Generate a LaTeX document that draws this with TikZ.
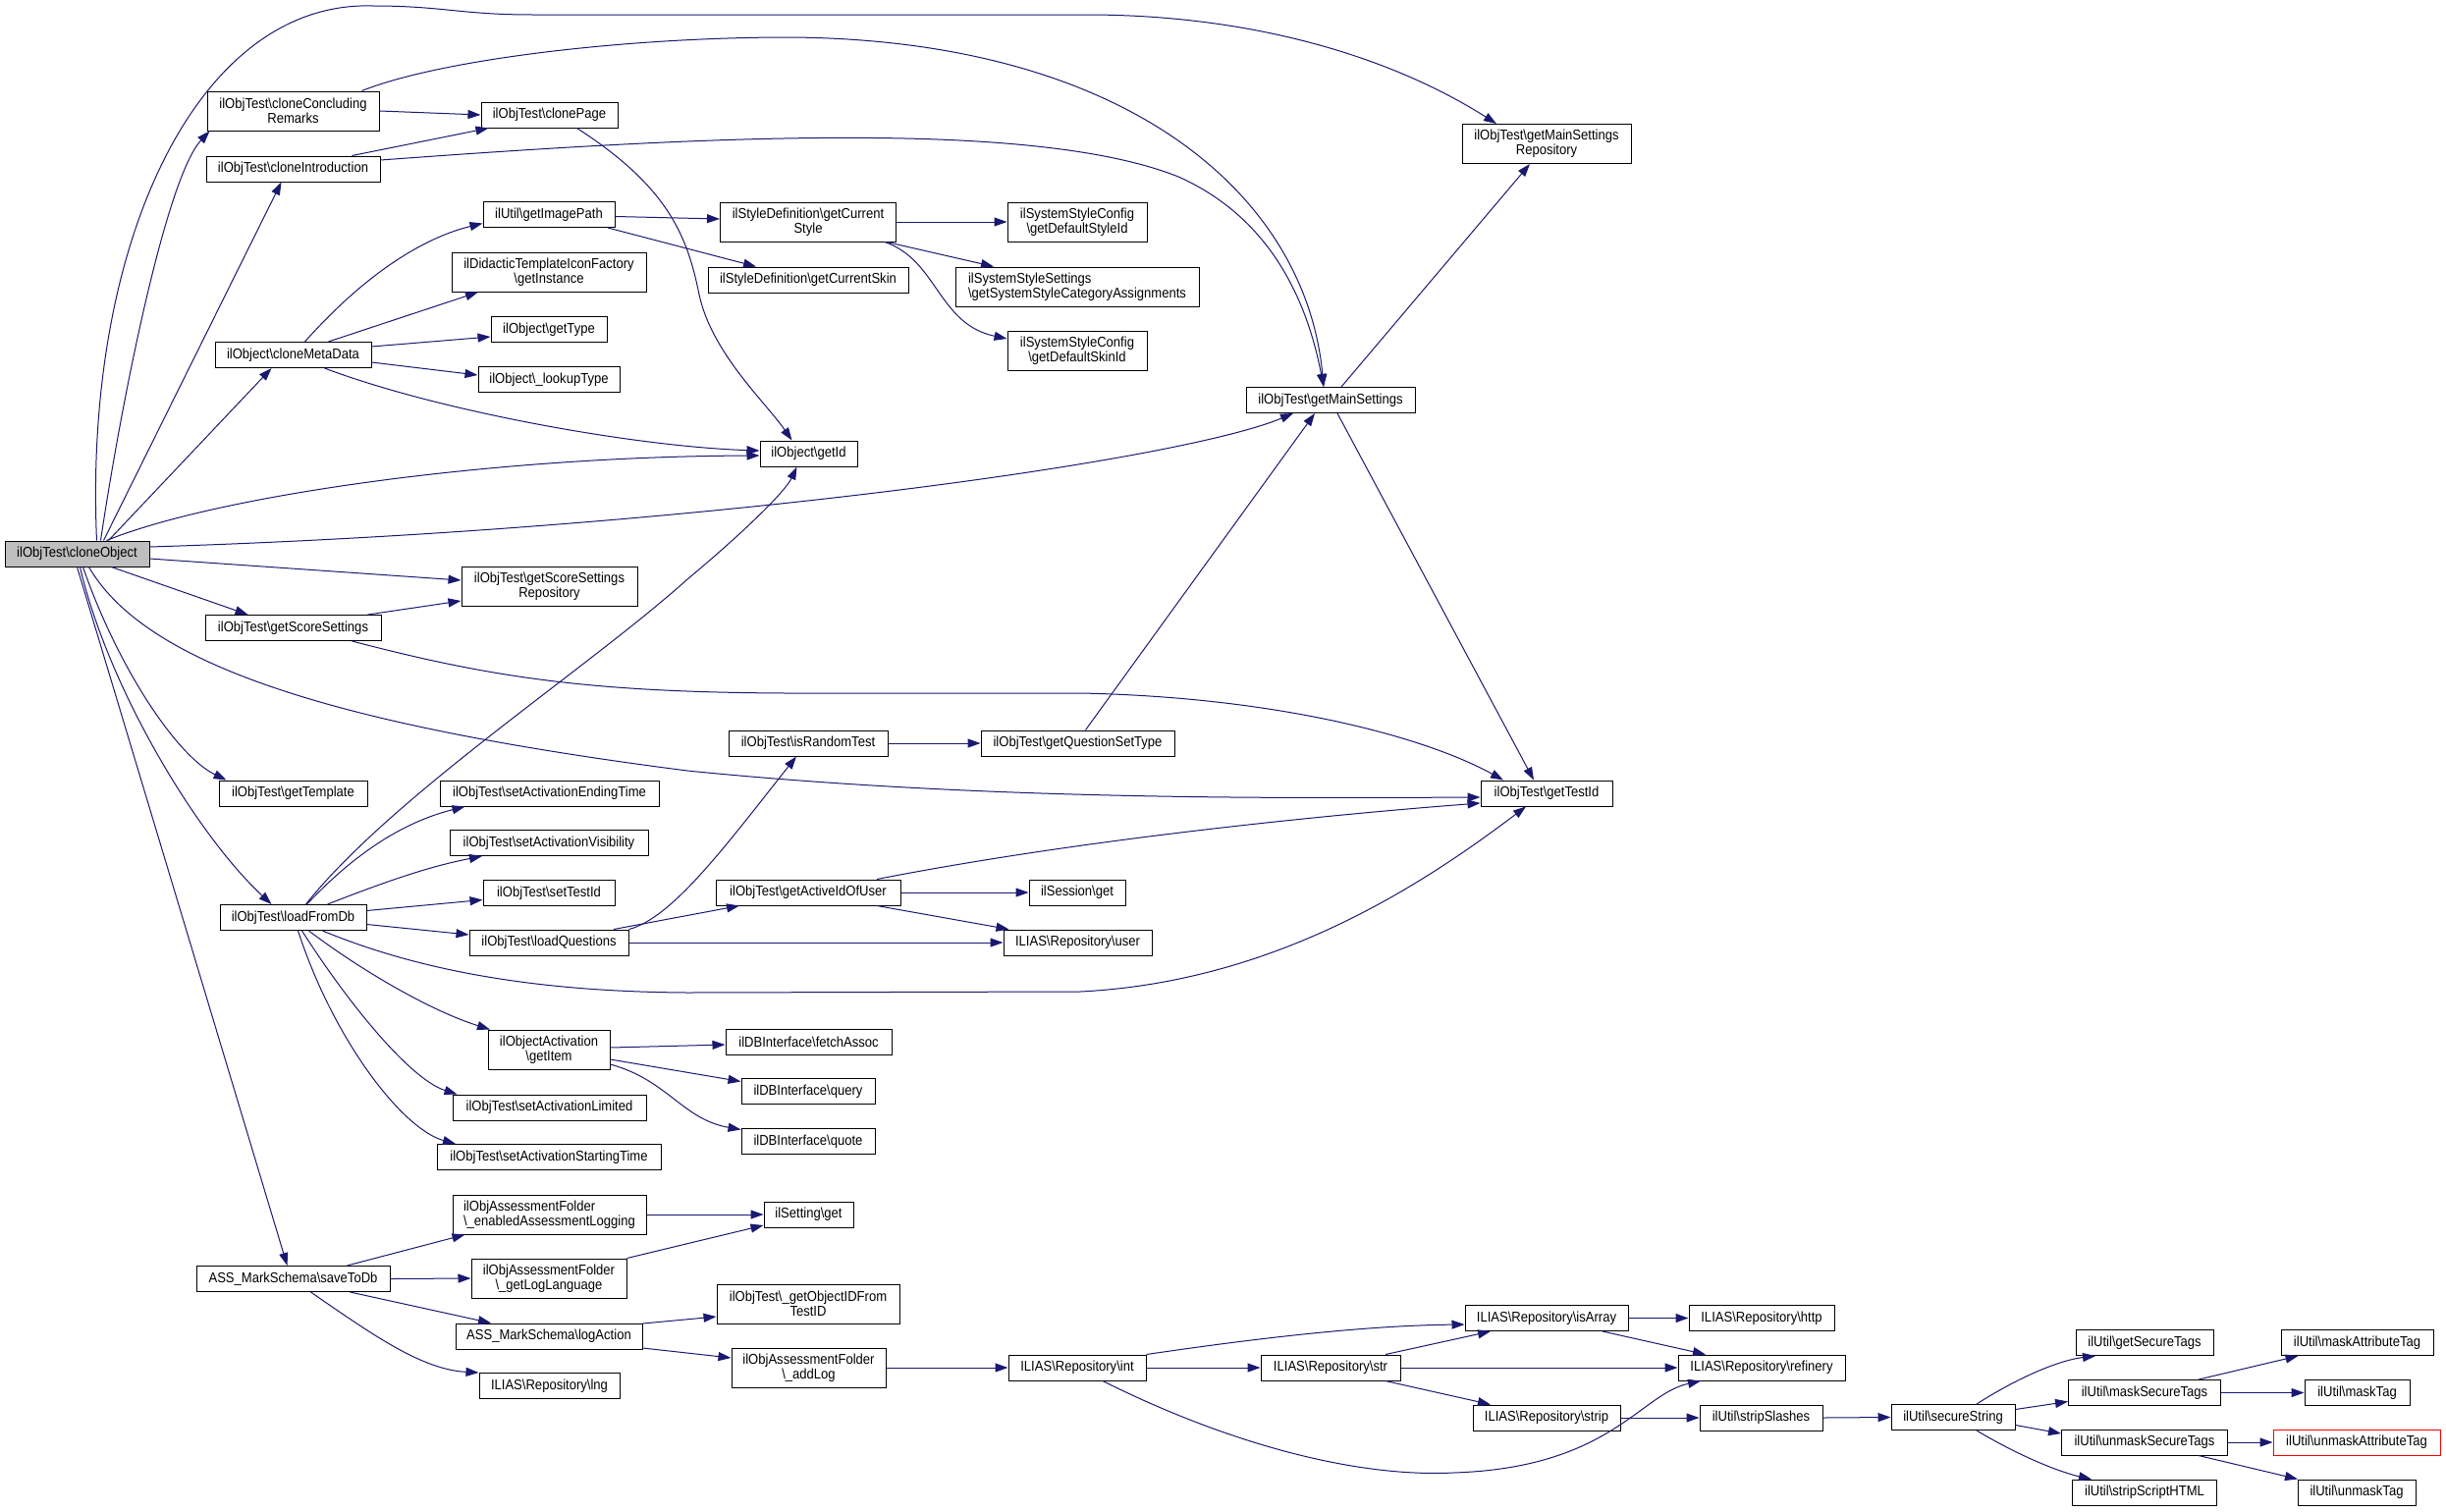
\documentclass[tikz,border=0pt]{standalone}
\usepackage{fontspec}
\setmainfont{Liberation Sans}[FakeStretch=0.9]
\usetikzlibrary{arrows.meta}
\definecolor{edgeblue}{RGB}{25,25,112}
\newcommand{\ns}{\textbackslash}

\begin{document}
\begin{tikzpicture}[x=1pt, y=-1pt,
  fn/.style={draw=black, line width=1pt, fill=white, minimum width=#1pt, minimum height=26pt,
    inner xsep=3pt, inner ysep=2pt, font=\fontsize{14.5}{15}\selectfont, align=center},
  tall/.style={minimum height=40pt},
  edge/.style={draw=edgeblue, line width=1pt, -{Triangle[length=13pt,width=9pt]}}]
\useasboundingbox[fill=white] (0,0) rectangle (2491,1539);

% column 0 and 1
\node[fn=147, fill=black!25] (cloneObject) at (78.5,564) {ilObjTest\ns cloneObject};
\node[fn=175, tall] (cloneConcludingRemarks) at (298.5,113) {ilObjTest\ns cloneConcluding\\Remarks};
\node[fn=177] (cloneIntroduction) at (298.5,172) {ilObjTest\ns cloneIntroduction};
\node[fn=159] (cloneMetaData) at (298.5,361.5) {ilObject\ns cloneMetaData};
\node[fn=179] (getScoreSettings) at (298.5,639.5) {ilObjTest\ns getScoreSettings};
\node[fn=151] (getTemplate) at (298.5,808) {ilObjTest\ns getTemplate};
\node[fn=149] (loadFromDb) at (298.5,934.5) {ilObjTest\ns loadFromDb};
\node[fn=197] (saveToDb) at (298.5,1302.5) {ASS\_MarkSchema\ns saveToDb};

% column 2
\node[fn=139] (clonePage) at (559.5,117) {ilObjTest\ns clonePage};
\node[fn=134] (getImagePath) at (559,218.5) {ilUtil\ns getImagePath};
\node[fn=198, tall] (getInstance) at (559,277) {ilDidacticTemplateIconFactory\\\ns getInstance};
\node[fn=118] (getType) at (559,335.5) {ilObject\ns getType};
\node[fn=144] (lookupType) at (559,386.5) {ilObject\ns\_lookupType};
\node[fn=179, tall] (scoreRepo) at (559.5,597) {ilObjTest\ns getScoreSettings\\Repository};
\node[fn=223] (setActEnding) at (559.5,808) {ilObjTest\ns setActivationEndingTime};
\node[fn=202] (setActVisibility) at (559,858.5) {ilObjTest\ns setActivationVisibility};
\node[fn=134] (setTestId) at (559,909.5) {ilObjTest\ns setTestId};
\node[fn=162] (loadQuestions) at (559,960) {ilObjTest\ns loadQuestions};
\node[fn=124, tall] (getItem) at (559,1069) {ilObjectActivation\\\ns getItem};
\node[fn=197] (setActLimited) at (559.5,1128) {ilObjTest\ns setActivationLimited};
\node[fn=228] (setActStarting) at (559,1178.5) {ilObjTest\ns setActivationStartingTime};
\node[fn=197, tall, align=left] (enabledLogging) at (559.5,1237) {ilObjAssessmentFolder\\\ns\_enabledAssessmentLogging};
\node[fn=158, tall] (getLogLanguage) at (559,1302) {ilObjAssessmentFolder\\\ns\_getLogLanguage};
\node[fn=190] (logAction) at (559,1361) {ASS\_MarkSchema\ns logAction};
\node[fn=143] (repoLng) at (559.5,1411.5) {ILIAS\ns Repository\ns lng};

% column 3
\node[fn=179, tall] (getCurrentStyle) at (823,226) {ilStyleDefinition\ns getCurrent\\Style};
\node[fn=204] (getCurrentSkin) at (823,285) {ilStyleDefinition\ns getCurrentSkin};
\node[fn=99] (getId) at (823.5,462) {ilObject\ns getId};
\node[fn=162] (isRandomTest) at (823,757) {ilObjTest\ns isRandomTest};
\node[fn=188] (getActiveId) at (823,909) {ilObjTest\ns getActiveIdOfUser};
\node[fn=169] (fetchAssoc) at (823.5,1061) {ilDBInterface\ns fetchAssoc};
\node[fn=136] (dbQuery) at (823,1111.5) {ilDBInterface\ns query};
\node[fn=136] (dbQuote) at (823,1162.5) {ilDBInterface\ns quote};
\node[fn=91] (settingGet) at (823.5,1237) {ilSetting\ns get};
\node[fn=186, tall] (objectIdFromTestId) at (823,1328) {ilObjTest\ns\_getObjectIDFrom\\TestID};
\node[fn=157, tall] (addLog) at (823.5,1393) {ilObjAssessmentFolder\\\ns\_addLog};

% column 4 and 5
\node[fn=142, tall] (defaultStyleId) at (1097,226) {ilSystemStyleConfig\\\ns getDefaultStyleId};
\node[fn=248, tall, align=left] (categoryAssignments) at (1097,292) {ilSystemStyleSettings\\\ns getSystemStyleCategoryAssignments};
\node[fn=142, tall] (defaultSkinId) at (1097,357) {ilSystemStyleConfig\\\ns getDefaultSkinId};
\node[fn=197] (questionSetType) at (1097.5,757) {ilObjTest\ns getQuestionSetType};
\node[fn=98] (sessionGet) at (1097,909) {ilSession\ns get};
\node[fn=151] (repoUser) at (1097.5,960) {ILIAS\ns Repository\ns user};
\node[fn=140] (repoInt) at (1097,1393) {ILIAS\ns Repository\ns int};
\node[fn=172] (getMainSettings) at (1355,407.5) {ilObjTest\ns getMainSettings};
\node[fn=142] (repoStr) at (1355,1393) {ILIAS\ns Repository\ns str};

% column 6 and 7
\node[fn=172, tall] (mainRepo) at (1575,146.5) {ilObjTest\ns getMainSettings\\Repository};
\node[fn=134] (getTestId) at (1575,808) {ilObjTest\ns getTestId};
\node[fn=166] (repoIsArray) at (1575,1342.5) {ILIAS\ns Repository\ns isArray};
\node[fn=150] (repoStrip) at (1575,1444) {ILIAS\ns Repository\ns strip};
\node[fn=148] (repoHttp) at (1794,1342.5) {ILIAS\ns Repository\ns http};
\node[fn=170] (repoRefinery) at (1794,1393) {ILIAS\ns Repository\ns refinery};
\node[fn=125] (stripSlashes) at (1793.5,1444) {ilUtil\ns stripSlashes};

% column 8 to 10
\node[fn=126] (secureString) at (1989,1443.5) {ilUtil\ns secureString};
\node[fn=140] (getSecureTags) at (2184,1367.5) {ilUtil\ns getSecureTags};
\node[fn=155] (maskSecureTags) at (2184,1418.5) {ilUtil\ns maskSecureTags};
\node[fn=169] (unmaskSecureTags) at (2184,1469) {ilUtil\ns unmaskSecureTags};
\node[fn=147] (stripScriptHTML) at (2184,1520) {ilUtil\ns stripScriptHTML};
\node[fn=155] (maskAttributeTag) at (2400.5,1367.5) {ilUtil\ns maskAttributeTag};
\node[fn=107] (maskTag) at (2400.5,1418.5) {ilUtil\ns maskTag};
\node[fn=170, draw=red] (unmaskAttributeTag) at (2400,1469) {ilUtil\ns unmaskAttributeTag};
\node[fn=120] (unmaskTag) at (2400,1520) {ilUtil\ns unmaskTag};

% calls of cloneObject
\draw[edge] ([xshift=20pt]cloneObject.north) .. controls (85,250) and (200,0) .. (380,6)
  .. controls (450,6) and (470,15) .. (542,15) -- (1106,15)
  .. controls (1280,15) and (1420,60) .. ([xshift=-51pt]mainRepo.north);
\draw[edge] ([xshift=24pt]cloneObject.north) .. controls (125,400) and (170,180) .. ([xshift=3pt]cloneConcludingRemarks.south west);
\draw[edge] ([xshift=27pt]cloneObject.north) -- ([xshift=-12pt]cloneIntroduction.south);
\draw[edge] ([xshift=32pt]cloneObject.north) -- ([xshift=-22pt]cloneMetaData.south);
\draw[edge] ([xshift=30pt]cloneObject.north) .. controls (220,505) and (500,465) .. ([yshift=-2pt]getId.west);
\draw[edge] ([yshift=7pt]cloneObject.east) .. controls (700,540) and (1200,470) .. ([xshift=-38pt]getMainSettings.south);
\draw[edge] ([yshift=-5pt]cloneObject.east) -- ([yshift=6pt]scoreRepo.west);
\draw[edge] ([xshift=35pt]cloneObject.south) -- ([xshift=-46pt]getScoreSettings.north);
\draw[edge] ([xshift=12pt]cloneObject.south) .. controls (150,680) and (350,740) .. (700,785)
  .. controls (1000,815) and (1300,813) .. ([yshift=-4pt]getTestId.west);
\draw[edge] ([xshift=6pt]cloneObject.south) .. controls (120,680) and (180,770) .. ([xshift=-68pt]getTemplate.north);
\draw[edge] ([xshift=3pt]cloneObject.south) .. controls (110,700) and (200,850) .. ([xshift=-22pt]loadFromDb.north);
\draw[edge] (cloneObject.south) -- ([xshift=-6pt]saveToDb.north);

% clone helpers
\draw[edge] (cloneConcludingRemarks.east) -- (clonePage.west);
\draw[edge] ([xshift=70pt]cloneConcludingRemarks.north) .. controls (450,60) and (640,38) .. (803,38)
  .. controls (1150,40) and (1330,200) .. ([xshift=-7pt]getMainSettings.north);
\draw[edge] ([xshift=60pt]cloneIntroduction.north) -- ([xshift=-62pt]clonePage.south);
\draw[edge] ([yshift=9pt]cloneIntroduction.east) .. controls (700,140) and (1050,120) .. (1200,180)
  .. controls (1290,220) and (1330,300) .. ([xshift=-7pt]getMainSettings.north);
\draw[edge] ([xshift=28pt]clonePage.south) .. controls (680,190) and (700,240) .. (712,300)
  .. controls (725,360) and (780,410) .. ([xshift=-17pt]getId.north);

% cloneMetaData
\draw[edge] ([xshift=12pt]cloneMetaData.north) .. controls (380,270) and (440,240) .. ([yshift=-9pt]getImagePath.west);
\draw[edge] ([xshift=36pt]cloneMetaData.north) -- ([xshift=-72pt]getInstance.south);
\draw[edge] ([yshift=8.5pt]cloneMetaData.east) -- ([yshift=-7.5pt]getType.west);
\draw[edge] ([yshift=-7.5pt]cloneMetaData.east) -- ([yshift=4.5pt]lookupType.west);
\draw[edge] ([xshift=32pt]cloneMetaData.south) .. controls (450,420) and (650,455) .. ([yshift=3pt]getId.west);
\draw[edge] ([yshift=-2pt]getImagePath.east) -- ([yshift=3pt]getCurrentStyle.west);
\draw[edge] ([xshift=60pt]getImagePath.south) -- ([xshift=-53pt]getCurrentSkin.north);
\draw[edge] (getCurrentStyle.east) -- (defaultStyleId.west);
\draw[edge] ([xshift=80pt]getCurrentStyle.south) -- ([xshift=-85pt]categoryAssignments.north);
\draw[edge] ([xshift=78pt]getCurrentStyle.south) .. controls (955,265) and (955,330) .. ([yshift=12pt]defaultSkinId.west);

% settings
\draw[edge] ([xshift=76pt]getScoreSettings.north) -- ([yshift=-15pt]scoreRepo.west);
\draw[edge] ([xshift=60pt]getScoreSettings.south) .. controls (500,690) and (600,705) .. (800,706) -- (1100,706)
  .. controls (1300,710) and (1450,750) .. ([xshift=-44pt]getTestId.north);
\draw[edge] ([xshift=11pt]getMainSettings.north) -- ([xshift=-17pt]mainRepo.south);
\draw[edge] ([xshift=7pt]getMainSettings.south) -- ([xshift=-13pt]getTestId.north);

% loadFromDb
\draw[edge] ([xshift=13pt]loadFromDb.north) .. controls (400,810) and (600,680) .. (700,590)
  .. controls (760,540) and (800,500) .. ([xshift=-12pt]getId.south);
\draw[edge] ([xshift=14pt]loadFromDb.north) .. controls (370,860) and (420,835) .. ([xshift=-86pt]setActEnding.south);
\draw[edge] ([xshift=35pt]loadFromDb.north) .. controls (400,895) and (440,882) .. ([xshift=-68pt]setActVisibility.south);
\draw[edge] ([yshift=7pt]loadFromDb.east) -- ([yshift=-7pt]setTestId.west);
\draw[edge] ([yshift=-7pt]loadFromDb.east) -- ([yshift=8pt]loadQuestions.west);
\draw[edge] ([xshift=30pt]loadFromDb.south) .. controls (430,990) and (550,1010) .. (700,1011) -- (1100,1010)
  .. controls (1300,1000) and (1450,900) .. ([xshift=-21pt]getTestId.south);
\draw[edge] ([xshift=16pt]loadFromDb.south) .. controls (370,990) and (440,1030) .. ([xshift=-60pt]getItem.north);
\draw[edge] ([xshift=9pt]loadFromDb.south) .. controls (360,1030) and (420,1100) .. ([xshift=-94pt]setActLimited.north);
\draw[edge] ([xshift=5pt]loadFromDb.south) .. controls (340,1060) and (410,1150) .. ([xshift=-95pt]setActStarting.north);

% loadQuestions
\draw[edge] (loadQuestions.north east) .. controls (685,935) and (740,860) .. ([xshift=-12pt]isRandomTest.south);
\draw[edge] ([xshift=66pt]loadQuestions.north) -- ([xshift=-70pt]getActiveId.south);
\draw[edge] (loadQuestions.east) -- (repoUser.west);
\draw[edge] (isRandomTest.east) -- (questionSetType.west);
\draw[edge] ([xshift=8pt]questionSetType.north) -- ([xshift=-16pt]getMainSettings.south);
\draw[edge] (getActiveId.east) -- (sessionGet.west);
\draw[edge] ([xshift=70pt]getActiveId.south) -- ([xshift=-70pt]repoUser.north);
\draw[edge] ([xshift=70pt]getActiveId.north) .. controls (1100,855) and (1350,830) .. ([yshift=-10pt]getTestId.west);

% getItem
\draw[edge] ([yshift=2pt]getItem.east) -- ([yshift=-3pt]fetchAssoc.west);
\draw[edge] ([yshift=-10pt]getItem.east) -- ([yshift=10pt]dbQuery.west);
\draw[edge] ([yshift=-15pt]getItem.east) .. controls (680,1100) and (695,1140) .. ([yshift=12pt]dbQuote.west);

% saveToDb
\draw[edge] ([xshift=55pt]saveToDb.north) -- ([xshift=-86pt]enabledLogging.south);
\draw[edge] (saveToDb.east) -- (getLogLanguage.west);
\draw[edge] ([xshift=58pt]saveToDb.south) -- ([xshift=-59pt]logAction.north);
\draw[edge] ([xshift=18pt]saveToDb.south) .. controls (380,1360) and (430,1395) .. (repoLng.north west);
\draw[edge] (enabledLogging.east) -- (settingGet.west);
\draw[edge] (getLogLanguage.north east) -- ([yshift=-11pt]settingGet.west);
\draw[edge] ([yshift=13pt]logAction.east) -- ([yshift=-13pt]objectIdFromTestId.west);
\draw[edge] ([yshift=-12pt]logAction.east) -- ([yshift=10pt]addLog.west);
\draw[edge] (addLog.east) -- (repoInt.west);

% repository
\draw[edge] (repoInt.north east) .. controls (1300,1360) and (1400,1350) .. ([yshift=-6.5pt]repoIsArray.west);
\draw[edge] (repoInt.east) -- (repoStr.west);
\draw[edge] ([xshift=26pt]repoInt.south) .. controls (1250,1470) and (1380,1505) .. (1480,1500)
  .. controls (1640,1495) and (1670,1420) .. ([xshift=-62pt]repoRefinery.south);
\draw[edge] ([xshift=56pt]repoStr.north) -- ([xshift=-57pt]repoIsArray.south);
\draw[edge] (repoStr.east) -- (repoRefinery.west);
\draw[edge] ([xshift=56pt]repoStr.south) -- ([xshift=-57pt]repoStrip.north);
\draw[edge] (repoIsArray.east) -- (repoHttp.west);
\draw[edge] ([xshift=57pt]repoIsArray.south) -- ([xshift=-57pt]repoRefinery.north);
\draw[edge] (repoStrip.east) -- (stripSlashes.west);
\draw[edge] (stripSlashes.east) -- (secureString.west);

% secureString
\draw[edge] ([xshift=24pt]secureString.north) .. controls (2060,1400) and (2100,1385) .. ([xshift=-50pt]getSecureTags.south);
\draw[edge] ([yshift=8pt]secureString.east) -- ([yshift=-9pt]maskSecureTags.west);
\draw[edge] ([yshift=-8pt]secureString.east) -- ([yshift=9pt]unmaskSecureTags.west);
\draw[edge] ([xshift=24pt]secureString.south) .. controls (2060,1485) and (2100,1500) .. ([xshift=-54pt]stripScriptHTML.north);
\draw[edge] ([xshift=55pt]maskSecureTags.north) -- ([xshift=-60pt]maskAttributeTag.south);
\draw[edge] (maskSecureTags.east) -- (maskTag.west);
\draw[edge] (unmaskSecureTags.east) -- (unmaskAttributeTag.west);
\draw[edge] ([xshift=55pt]unmaskSecureTags.south) -- ([xshift=-60pt]unmaskTag.north);
\end{tikzpicture}
\end{document}
